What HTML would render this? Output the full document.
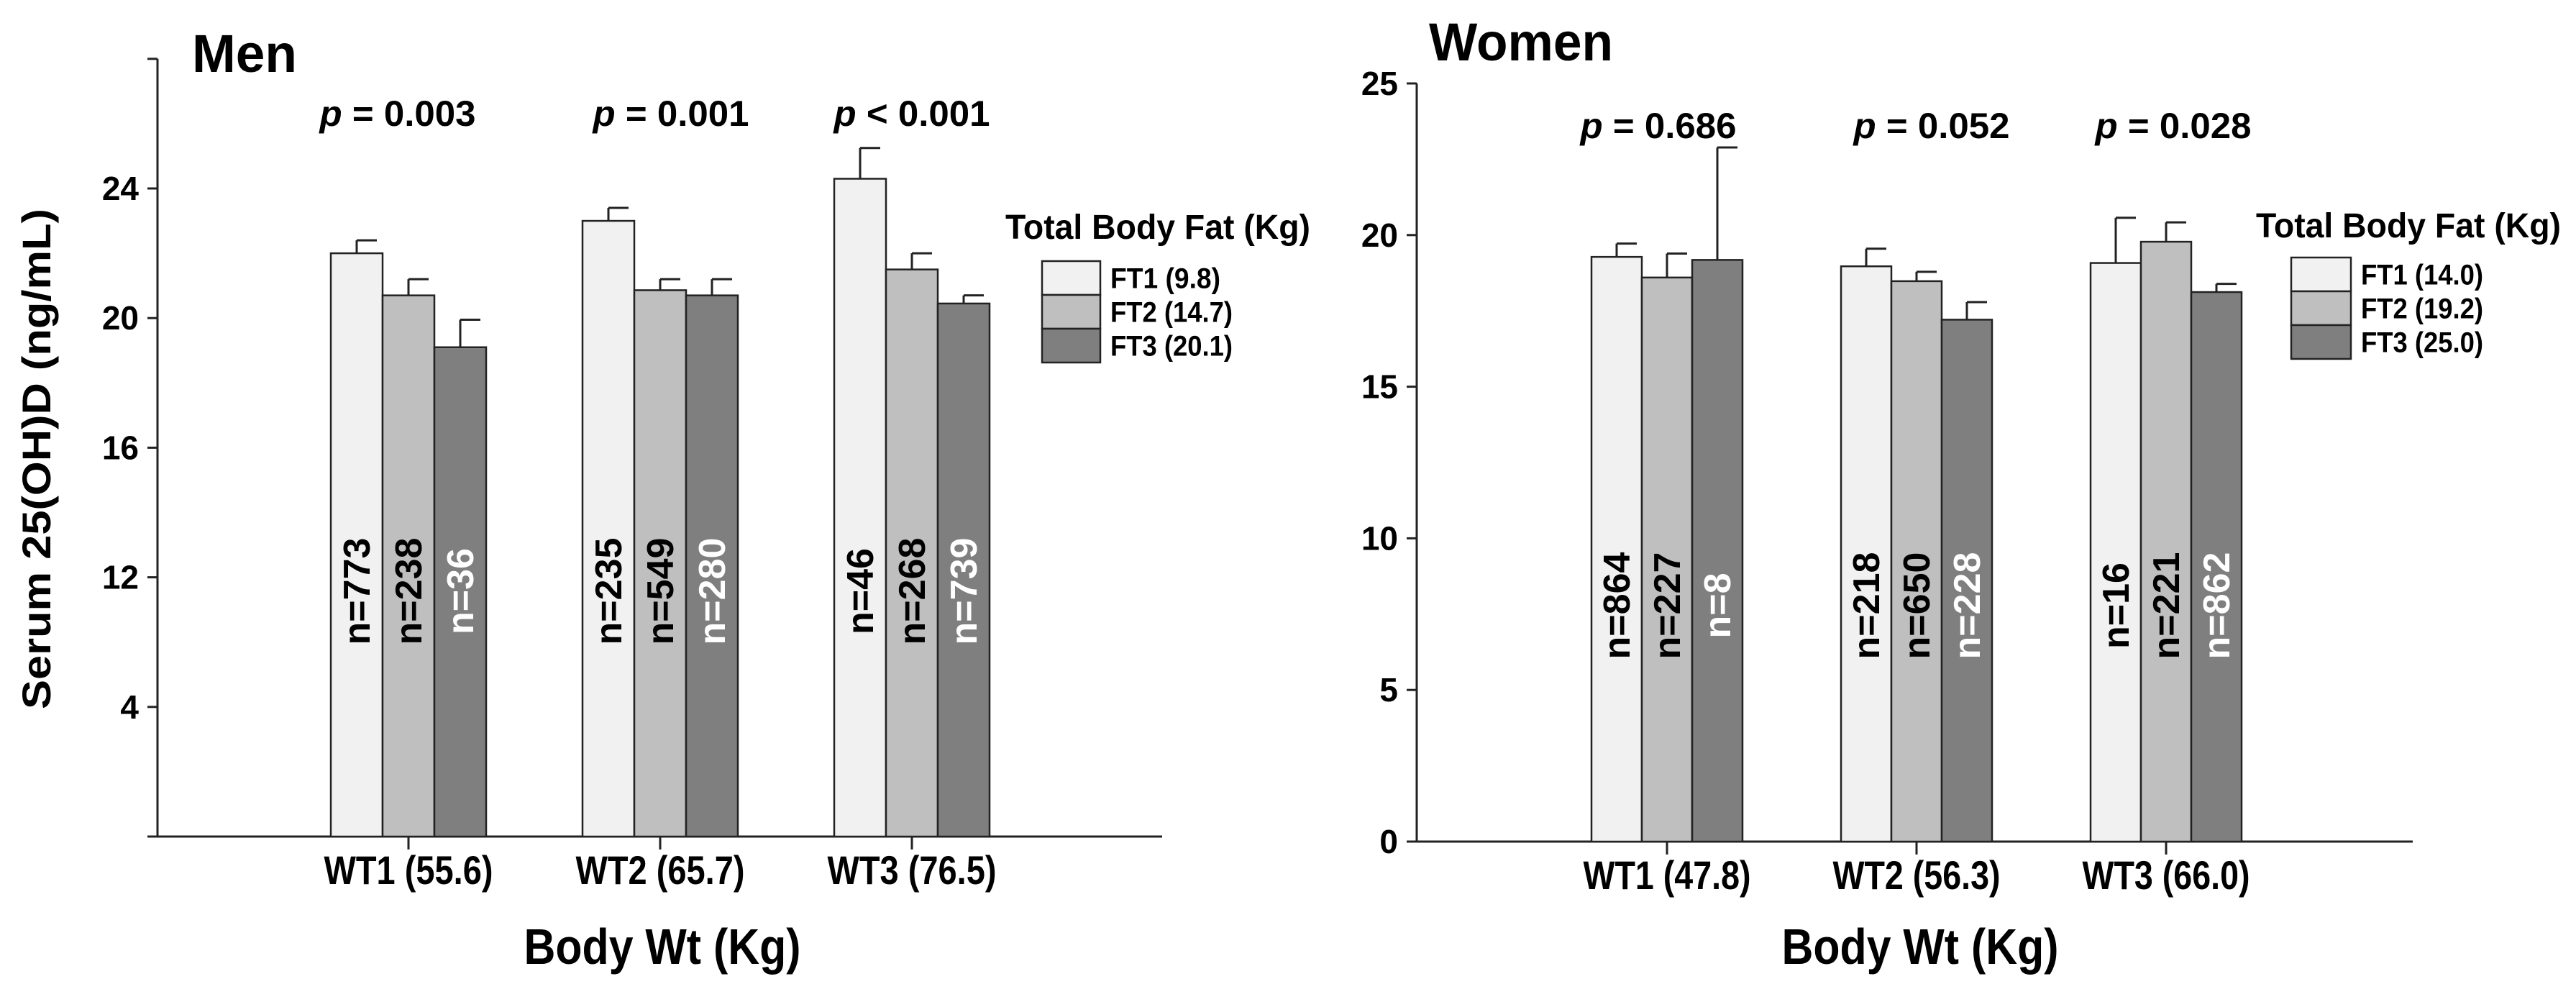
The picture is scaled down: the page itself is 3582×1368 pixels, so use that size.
<!DOCTYPE html>
<html><head><meta charset="utf-8"><style>
html,body{margin:0;padding:0;background:#fff}
svg{display:block}
text{font-family:"Liberation Sans Narrow","Liberation Sans",sans-serif;font-weight:bold;fill:#000}
.w{font-family:"Liberation Sans",sans-serif}
</style></head><body>
<svg id="chart" width="3582" height="1368" viewBox="0 0 3582 1368" xmlns="http://www.w3.org/2000/svg"></svg>
<script>
const groupsMen = ["WT1 (55.6)","WT2 (65.7)","WT3 (76.5)"];
const groupsWomen = ["WT1 (47.8)","WT2 (56.3)","WT3 (66.0)"];
const menFT1 = [22.0, 23.0, 24.3];
const menFT2 = [20.7, 20.86, 21.5];
const menFT3 = [19.1, 20.7, 20.45];
const menErr1 = [22.4, 23.4, 25.25];
const menErr2 = [21.2, 21.2, 22.0];
const menErr3 = [19.95, 21.2, 20.7];
const menN1 = ["n=773","n=235","n=46"];
const menN2 = ["n=238","n=549","n=268"];
const menN3 = ["n=36","n=280","n=739"];
const menP = ["= 0.003","= 0.001","< 0.001"];
const menLegend = ["FT1 (9.8)","FT2 (14.7)","FT3 (20.1)"];
const menTickVals = [28,24,20,16,12,8,4];
const menTickLabels = ["","24","20","16","12","4",""];
const womenFT1 = [19.28, 18.97, 19.08];
const womenFT2 = [18.6, 18.48, 19.78];
const womenFT3 = [19.18, 17.21, 18.12];
const womenErr1 = [19.72, 19.55, 20.57];
const womenErr2 = [19.39, 18.79, 20.42];
const womenErr3 = [22.89, 17.79, 18.39];
const womenN1 = ["n=864","n=218","n=16"];
const womenN2 = ["n=227","n=650","n=221"];
const womenN3 = ["n=8","n=228","n=862"];
const womenP = ["= 0.686","= 0.052","= 0.028"];
const womenLegend = ["FT1 (14.0)","FT2 (19.2)","FT3 (25.0)"];
const womenTickVals = [25,20,15,10,5,0];
const womenTickLabels = ["25","20","15","10","5","0"];

const svg = document.getElementById('chart');
const NS = "http://www.w3.org/2000/svg";
function mk(tag, attrs, parent){
  const e = document.createElementNS(NS, tag);
  for (const k in attrs) e.setAttribute(k, attrs[k]);
  (parent||svg).appendChild(e);
  return e;
}
function txt(s, attrs, parent){ const t = mk('text', attrs, parent); t.textContent = s; return t; }

const fills = ["#f1f1f1","#bfbfbf","#7f7f7f"];

function panel(cfg){
  const g = mk('g', {});
  
  
  const y = v => cfg.base - (v - cfg.vmin) * cfg.ppu;
  const ya = mk('line', {x1:cfg.ax, y1:y(cfg.vmax), x2:cfg.ax, y2:cfg.base, stroke:'#222','stroke-width':3}, g);
  
  
  const xa = mk('line', {x1:cfg.ax-14, y1:cfg.base, x2:cfg.axEnd, y2:cfg.base, stroke:'#222','stroke-width':3}, g);
  
  
  cfg.tickVals.forEach((v,i)=>{
    mk('line', {x1:cfg.ax-14, y1:y(v), x2:cfg.ax, y2:y(v), stroke:'#222','stroke-width':3}, g);
    if (cfg.tickLabels[i]) {
      const t = txt(cfg.tickLabels[i], {x:cfg.ax-26, y:y(v)+16, 'text-anchor':'end','font-size':46}, g);
      
      
    }
  });
  const series = [cfg.s1, cfg.s2, cfg.s3];
  const errs = [cfg.e1, cfg.e2, cfg.e3];
  const ns = [cfg.n1, cfg.n2, cfg.n3];
  cfg.groups.forEach((lab, gi)=>{
    const cx = cfg.g0 + gi*cfg.gStep;
    mk('line', {x1:cx, y1:cfg.base, x2:cx, y2:cfg.base+18, stroke:'#222','stroke-width':3}, g);
    const tl = txt(lab, {x:cx, y:cfg.base+66, 'text-anchor':'middle','font-size':56, textLength:cfg.tlw, lengthAdjust:'spacingAndGlyphs'}, g);
    
    
    for (let s=0; s<3; s++){
      const x0 = cx - 1.5*cfg.bw + s*cfg.bw;
      const v = series[s][gi];
      const e = errs[s][gi];
      const bx = x0 + cfg.bw/2;
      const el = mk('line', {x1:bx, y1:y(v), x2:bx, y2:y(e), stroke:'#222','stroke-width':3}, g);
      
      
      mk('line', {x1:bx, y1:y(e), x2:bx+28, y2:y(e), stroke:'#222','stroke-width':3}, g);
      const r = mk('rect', {x:x0, y:y(v), width:cfg.bw, height:cfg.base-y(v), fill:fills[s], stroke:'#222','stroke-width':2.5}, g);
      
      
      const ty = cfg.nY;
      const nt = txt(ns[s][gi], {x:bx+18, y:ty, 'text-anchor':'middle','font-size':52, class:'w', transform:`rotate(-90 ${bx+18} ${ty})`, style: s===2?'fill:#fff':''}, g);
      
      
    }
    const pt = mk('text', {x:cfg.pX[gi], y:cfg.pY, 'text-anchor':'middle','font-size':50, textLength:217, lengthAdjust:'spacingAndGlyphs'}, g);
    
    
    const ts = document.createElementNS(NS,'tspan'); ts.setAttribute('font-style','italic'); ts.textContent='p '; pt.appendChild(ts);
    pt.appendChild(document.createTextNode(cfg.p[gi]));
  });
  const tt = txt(cfg.title, {x:cfg.titleX, y:cfg.titleY, 'font-size':74, textLength:cfg.titleW, lengthAdjust:'spacingAndGlyphs'}, g);
  
  
  const xt = txt('Body Wt (Kg)', {x:cfg.xtX, y:1340, 'text-anchor':'middle','font-size':70, textLength:385, lengthAdjust:'spacingAndGlyphs'}, g);
  
  
  const lg = mk('g', {}, g);
  
  
  txt('Total Body Fat (Kg)', {x:cfg.lgX, y:cfg.lgY, 'font-size':48, textLength:424, lengthAdjust:'spacingAndGlyphs'}, lg);
  cfg.legend.forEach((l,i)=>{
    const by = cfg.lgBoxY + i*cfg.lgBoxH;
    const sw = mk('rect', {x:cfg.lgBoxX, y:by, width:cfg.lgBoxW, height:cfg.lgBoxH, fill:fills[i], stroke:'#222','stroke-width':2.5}, lg);
    
    
    const lt = txt(l, {x:cfg.lgBoxX+cfg.lgBoxW+14, y:by+cfg.lgBoxH/2+14, 'font-size':40, textLength: l.length*17, lengthAdjust:'spacingAndGlyphs'}, lg);
    
    
  });
}

panel({name:'men-panel', vmin:4, vmax:28, base:1163, ppu:45.05, ax:219, axEnd:1616,
  tickVals:menTickVals, tickLabels:menTickLabels, groups:groupsMen, g0:568, gStep:350, bw:72, tlw:235,
  s1:menFT1, s2:menFT2, s3:menFT3, e1:menErr1, e2:menErr2, e3:menErr3, n1:menN1, n2:menN2, n3:menN3,
  nY:822, p:menP, pX:[553,933,1268], pY:175, title:'Men', titleX:267, titleY:100, titleW:146, xtX:921,
  legend:menLegend, lgX:1398, lgY:332, lgBoxX:1449, lgBoxY:363, lgBoxW:81, lgBoxH:47});

panel({name:'women-panel', vmin:0, vmax:25, base:1170, ppu:42.16, ax:1970, axEnd:3355,
  tickVals:womenTickVals, tickLabels:womenTickLabels, groups:groupsWomen, g0:2318, gStep:347, bw:70, tlw:233,
  s1:womenFT1, s2:womenFT2, s3:womenFT3, e1:womenErr1, e2:womenErr2, e3:womenErr3, n1:womenN1, n2:womenN2, n3:womenN3,
  nY:842, p:womenP, pX:[2306,2686,3022], pY:192, title:'Women', titleX:1987, titleY:84, titleW:256, xtX:2670,
  legend:womenLegend, lgX:3137, lgY:330, lgBoxX:3186, lgBoxY:358, lgBoxW:83, lgBoxH:47});

const yt = txt('Serum 25(OH)D (ng/mL)', {x:70, y:638, 'text-anchor':'middle','font-size':56, class:'w', textLength:696, lengthAdjust:'spacingAndGlyphs', transform:'rotate(-90 70 638)'});


</script>
</body></html>
